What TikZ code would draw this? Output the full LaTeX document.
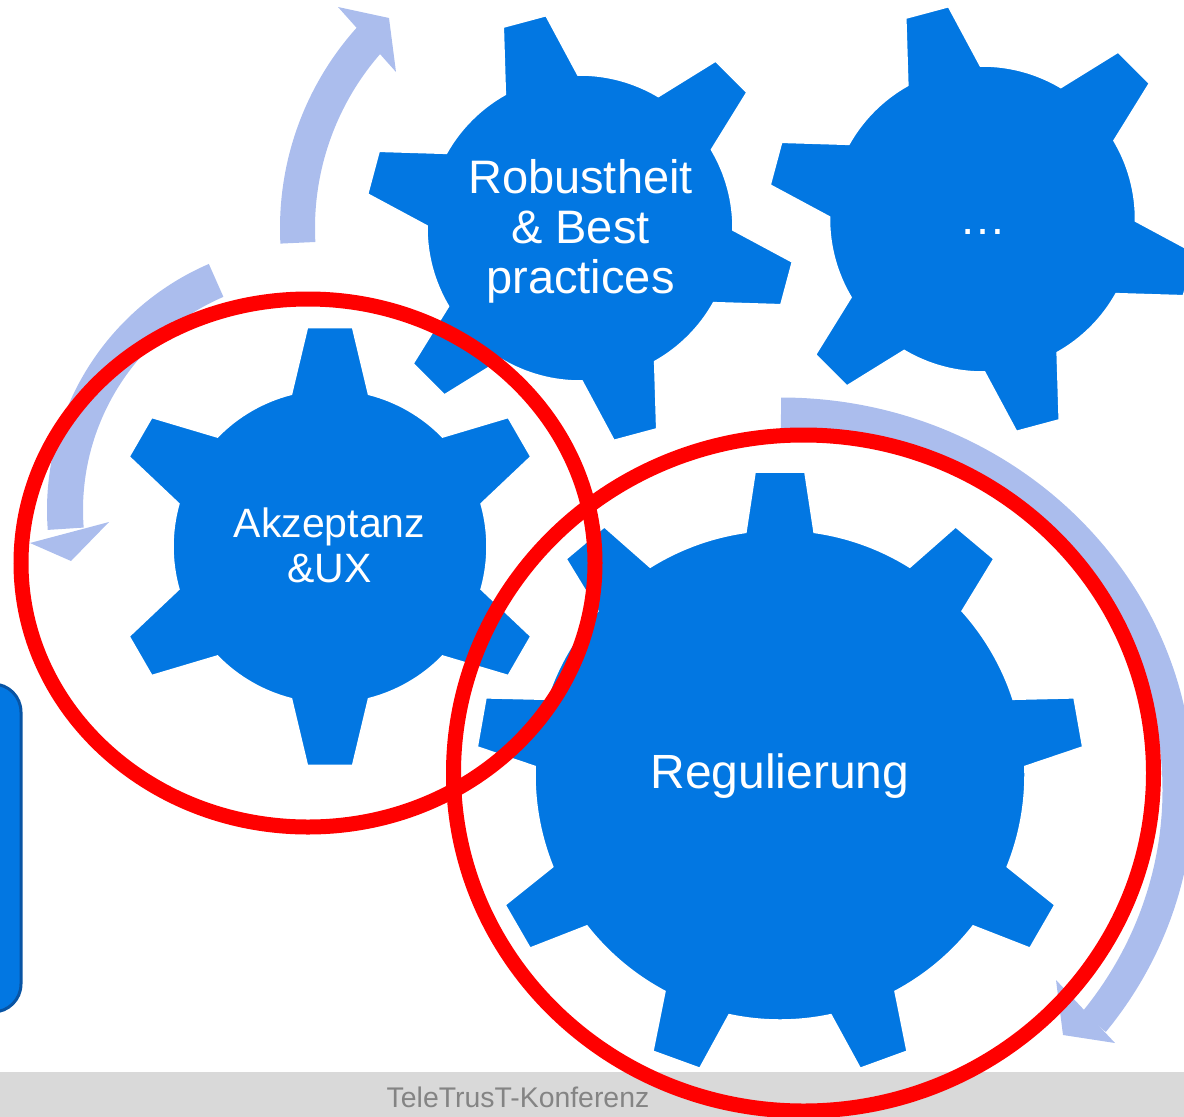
\documentclass[tikz,border=0pt]{standalone}
\usepackage{fontspec}
\setmainfont{Liberation Sans}
\definecolor{gearblue}{RGB}{2,119,226}
\definecolor{arcblue}{RGB}{171,189,237}
\definecolor{footgray}{RGB}{217,217,217}
\definecolor{foottext}{RGB}{132,132,132}
\definecolor{boxedge}{RGB}{8,84,164}
\begin{document}
\begin{tikzpicture}[x=1pt,y=-1pt,
  gearshape/.style={fill=gearblue, draw=white, line width=1.5pt, line join=miter},
  gtext/.style={text=white, inner sep=0pt},
  arcband/.style={draw=arcblue, line cap=butt},
  archead/.style={fill=arcblue},
  redring/.style={draw=red, line width=15pt}]
\useasboundingbox (0,0) rectangle (1184,1117);
\clip (0,0) rectangle (1184,1117);

% named centres
\coordinate (cReg) at (780,775);
\coordinate (cAkz) at (330,546.5);
\coordinate (cRob) at (580,228);
\coordinate (cDot) at (982.5,219);

% footer
\fill[footgray] (0,1072) rectangle (1184,1117);
\node[anchor=base, text=foottext, inner sep=0pt, font=\fontsize{28.4}{30}\selectfont] (footer) at (518,1107) {TeleTrusT-Konferenz};

% left partial box
\filldraw[fill=gearblue, draw=boxedge, line width=3pt, rounded corners=28pt] (-40,684) rectangle (21,1012);

% circular arrows
\draw[arcband, line width=35pt] (cRob) ++(-183:282.5) arc[start angle=-183, end angle=-137.8, radius=282.5];
\fill[archead] (338,7) -- (389,18) -- (396,72) -- cycle;

\draw[arcband, line width=36pt] (315,510) ++(-113.3:250) arc[start angle=-113.3, end angle=-184.3, radius=250];
\fill[archead] (30,543) -- (71,561) -- (109,522) -- cycle;

\draw[arcband, line width=31pt] (781,790) ++(-90:397 and 377) arc[start angle=-90, end angle=38, x radius=397, y radius=377];
\fill[archead] (1056,980) -- (1063,1035) -- (1115,1043) -- cycle;

% gears
\begin{scope}[shift={(cReg)}]
\filldraw[gearshape] (-98:245)
  \foreach \k [evaluate=\k as \a using {-90+40*\k}] in {0,...,8} {
    -- ({\a-4.7}:304) -- ({\a+4.7}:304) -- ({\a+8}:245)
    arc[start angle={\a+8}, end angle={\a+32}, radius=245]
  } -- cycle;
\end{scope}
\begin{scope}[shift={(cAkz)}]
\filldraw[gearshape] (-104.2:157)
  \foreach \k [evaluate=\k as \a using {-90+60*\k}] in {0,...,5} {
    -- ({\a-5.9}:220) -- ({\a+5.9}:220) -- ({\a+14.2}:157)
    arc[start angle={\a+14.2}, end angle={\a+45.8}, radius=157]
  } -- cycle;
\end{scope}
\begin{scope}[shift={(cRob)}]
\filldraw[gearshape] (-119.2:153)
  \foreach \k [evaluate=\k as \a using {-105+60*\k}] in {0,...,5} {
    -- ({\a-5.9}:215) -- ({\a+5.9}:215) -- ({\a+14.2}:153)
    arc[start angle={\a+14.2}, end angle={\a+45.8}, radius=153]
  } -- cycle;
\end{scope}
\begin{scope}[shift={(cDot)}]
\filldraw[gearshape] (-119.2:153)
  \foreach \k [evaluate=\k as \a using {-105+60*\k}] in {0,...,5} {
    -- ({\a-5.9}:215) -- ({\a+5.9}:215) -- ({\a+14.2}:153)
    arc[start angle={\a+14.2}, end angle={\a+45.8}, radius=153]
  } -- cycle;
\end{scope}

% gear labels
\node[gtext, anchor=base, font=\fontsize{48}{50}\selectfont] (reg) at (780,788) {Regulierung};
\node[gtext, align=center, font=\fontsize{47}{50}\selectfont] (rob) at (580.5,231) {Robustheit\\\& Best\\practices};
\node[gtext, align=center, font=\fontsize{41}{45}\selectfont] (akz) at (329.5,545) {Akzeptanz\\\&UX};
\node[gtext, anchor=base, font=\fontsize{47}{50}\selectfont] (dots) at (983,234) {…};

% red rings
\draw[redring] (308,563) ellipse[x radius=287, y radius=264];
\draw[redring] (803.5,773) ellipse[x radius=350, y radius=338];
\end{tikzpicture}
\end{document}
